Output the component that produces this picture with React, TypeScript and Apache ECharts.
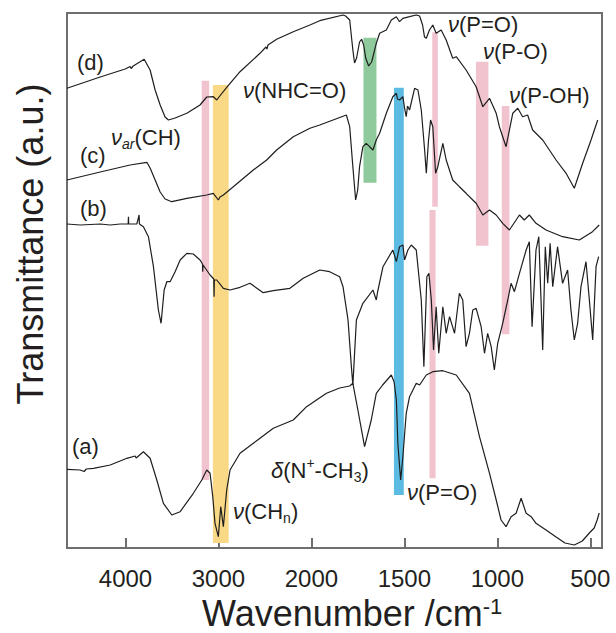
import React, { useEffect, useRef } from "react";
import * as echarts from "echarts";

// ---------- data ----------
const tickWavenumbers = [4000, 3000, 2000, 1500, 1000, 500];
const xLimits = [4629, 437];
const yLimits = [0, 535];

// (d) top spectrum: [wavenumber, transmittance a.u.]
const spectrumD = [
  [4629, 459.7], [4272, 471], [4003, 479], [3950, 481.5], [3939, 479.5], [3917, 482], [3799, 488.7],
  [3735, 478], [3681, 458], [3627, 443], [3574, 431], [3538, 428], [3466, 430], [3340, 434.7],
  [3198, 443], [3126, 451], [3055, 451.3], [3018, 448], [2994, 451], [2911, 460.7], [2768, 476.3],
  [2553, 494.7], [2489, 501], [2478, 499], [2467, 503], [2374, 508.7], [2195, 516.3], [2016, 523],
  [1955, 527.3], [1830, 533], [1816, 532], [1794, 528], [1777, 498], [1768, 485], [1757, 490],
  [1741, 506], [1730, 508.7], [1719, 503], [1708, 490], [1692, 482], [1676, 486], [1651, 504.7],
  [1633, 514.7], [1597, 518], [1570, 528], [1543, 531.3], [1526, 526.3], [1508, 529.7], [1472, 531.3],
  [1436, 533], [1418, 532], [1402, 523], [1392, 511.3], [1382, 509.7], [1365, 518], [1347, 523],
  [1329, 514.7], [1302, 518], [1275, 508], [1240, 489.7], [1221, 491.3], [1168, 478], [1114, 461.3],
  [1078, 441.3], [1042, 449.7], [1006, 434.7], [989, 421.3], [953, 401.3], [917, 434.7], [890, 439.7],
  [864, 431.3], [837, 433], [810, 418], [756, 408], [684, 388], [630, 374.7], [586, 359.7],
  [541, 384.7], [496, 408], [460, 428],
];

// (c)
const spectrumC = [
  [4629, 368], [4272, 376], [3950, 383], [3770, 385.7], [3735, 380], [3681, 368], [3627, 356],
  [3574, 349], [3502, 346.3], [3340, 349.7], [3126, 353], [3055, 354.7], [3001, 348], [2983, 351],
  [2947, 353], [2840, 361.3], [2625, 378], [2481, 388], [2374, 398], [2195, 411.3], [2016, 419.7],
  [1955, 423], [1812, 433], [1794, 421.3], [1777, 381.3], [1762, 348], [1751, 358], [1741, 381.3],
  [1723, 401.3], [1705, 404.7], [1687, 401.3], [1669, 398], [1651, 408], [1633, 414.7], [1597, 434.7],
  [1562, 451.3], [1543, 454.7], [1537, 449], [1526, 448], [1508, 451.3], [1499, 440], [1490, 431.3],
  [1483, 442], [1472, 438], [1445, 459.7], [1427, 458], [1409, 438], [1391, 398], [1382, 374.7],
  [1370, 408], [1359, 428], [1347, 421.3], [1332, 374.7], [1320, 381.3], [1293, 404.7], [1275, 388],
  [1240, 368], [1204, 361.3], [1168, 354.7], [1132, 348], [1114, 344.7], [1078, 333], [1042, 338],
  [1006, 333], [971, 324.7], [935, 318], [881, 333], [855, 328], [828, 333], [792, 324.7], [738, 318],
  [649, 311.3], [559, 308], [488, 316.3], [452, 323],
];

// (b)
const spectrumB = [
  [4629, 324], [4487, 323], [4378, 323.5], [4272, 324], [4164, 323], [4057, 324], [3971, 324],
  [3968, 331.3], [3965, 324], [3878, 324], [3853, 333], [3850, 324], [3807, 321.3], [3753, 311.3],
  [3699, 281.3], [3646, 238], [3617, 224.7], [3584, 258], [3555, 266.3], [3520, 266.3], [3466, 276.3],
  [3412, 288], [3340, 294.7], [3270, 294], [3198, 288], [3171, 284], [3169, 276.3], [3165, 283],
  [3090, 273], [3050, 269], [3047, 251.3], [3044, 268], [3018, 268], [2947, 259.7], [2875, 258],
  [2768, 260.7], [2661, 264.7], [2518, 255.3], [2410, 257.3], [2231, 259.7], [2088, 269.7],
  [1955, 278], [1902, 276.3], [1848, 271.3], [1830, 261.3], [1803, 228], [1785, 181.3], [1777, 163],
  [1758, 228], [1723, 244.7], [1669, 258], [1651, 248], [1644, 256], [1615, 281.3], [1562, 298],
  [1543, 286.3], [1526, 301.3], [1508, 303], [1499, 288], [1481, 298], [1463, 303], [1436, 298],
  [1409, 248], [1395, 181.3], [1379, 271.3], [1368, 274.7], [1355, 248], [1343, 198], [1329, 241.3],
  [1315, 194.7], [1293, 241.3], [1275, 214.7], [1257, 231.3], [1230, 214.7], [1204, 254.7],
  [1186, 248], [1168, 201.3], [1150, 214.7], [1132, 238], [1114, 239.7], [1087, 221.3], [1069, 194.7],
  [1052, 214.7], [1033, 201.3], [1016, 178], [998, 204.7], [971, 224.7], [944, 248], [926, 264.7],
  [908, 256.3], [881, 274.7], [845, 298], [828, 306.3], [813, 221.3], [792, 298], [777, 311.3],
  [765, 248], [756, 198], [742, 301.3], [729, 264.7], [716, 304.7], [702, 261.3], [676, 301.3],
  [649, 264.7], [622, 278], [604, 238], [586, 208], [568, 224.7], [550, 261.3], [523, 286.3],
  [505, 248], [487, 208], [469, 281.3], [455, 291.3],
];

// (a)
const spectrumA = [
  [4629, 78.7], [4487, 78], [4444, 76.5], [4422, 79], [4344, 79.7], [4164, 83], [3985, 89.7],
  [3896, 92], [3885, 90], [3807, 96.3], [3735, 89.7], [3663, 68], [3592, 44.7], [3502, 33],
  [3412, 36.3], [3270, 54.7], [3179, 68], [3126, 78], [3090, 74.7], [3061, 51.3], [3037, 24.7],
  [3001, 11.3], [2975, 41.3], [2947, 21.3], [2911, 58], [2875, 78], [2768, 94.7], [2553, 109.7],
  [2410, 119.7], [2195, 128], [2052, 141.3], [1919, 154.7], [1848, 160], [1794, 162], [1777, 164.7],
  [1750, 138], [1714, 101.3], [1678, 128], [1651, 154.7], [1617, 163], [1570, 173], [1555, 166],
  [1543, 148], [1535, 104.7], [1520, 68], [1508, 91.3], [1490, 134.7], [1472, 151.3], [1454, 158],
  [1436, 164.7], [1418, 163], [1382, 173], [1347, 176.3], [1293, 177.3], [1221, 173], [1150, 154.7],
  [1096, 111.3], [1042, 74.7], [1006, 48], [980, 28], [953, 21.3], [926, 31.3], [899, 34.7],
  [872, 49.7], [845, 34.7], [818, 31.3], [792, 24.7], [738, 18], [684, 11], [636, 5], [586, 3],
  [543, 7], [505, 15], [479, 20], [463, 28], [452, 35],
];

// highlighted bands: [wn from, wn to, top a.u., bottom a.u., kind]
// kind: 0 = pink, 1 = yellow, 2 = green, 3 = blue
const bands = [
  [3180, 3100, 467.3, 68, 0],
  [3060, 2890, 463, 5, 1],
  [1720, 1650, 510.3, 365.3, 2],
  [1556, 1503, 460.3, 53, 3],
  [1350, 1320, 515.7, 341.3, 0],
  [1365, 1332, 338, 69.7, 0],
  [1115, 1048, 486.3, 302.3, 0],
  [976, 935, 442, 213.7, 0],
];

// ---------- helpers ----------
const FONT = '"Liberation Sans", Arial, sans-serif';
const INK = "#231f20";
const bandColors = ["#f1c3cf", "#f9d985", "#8fca9c", "#5bbbe2"];

// piecewise wavenumber scale: 1000 cm-1 per unit above 2000, 500 cm-1 per unit below
function toU(wn: number): number {
  return wn >= 2000 ? (4000 - wn) / 1000 : 2 + (2000 - wn) / 500;
}

const mapSpec = (s: number[][]) => s.map(([wn, v]) => [toU(wn), v]);

const tickU = tickWavenumbers.map(toU);

function labelFor(u: number): string {
  let best = 0;
  for (let i = 0; i < tickU.length; i++) {
    if (Math.abs(tickU[i] - u) < Math.abs(tickU[best] - u)) best = i;
  }
  return String(tickWavenumbers[best]);
}

const base = { fontFamily: FONT, fontSize: 22, fill: INK, lineHeight: 28 };
const richStyles = {
  n: { ...base },
  it: { ...base, fontStyle: "italic" },
  sub: { fontFamily: FONT, fontSize: 14, fill: INK, lineHeight: 14, verticalAlign: "bottom" },
  subit: { fontFamily: FONT, fontSize: 14, fill: INK, lineHeight: 14, verticalAlign: "bottom", fontStyle: "italic" },
  sup: { fontFamily: FONT, fontSize: 14, fill: INK, lineHeight: 14, verticalAlign: "top" },
};

function label(text: string, x: number, y: number) {
  return {
    type: "text",
    x,
    y,
    z: 10,
    style: {
      text,
      rich: richStyles,
      fontFamily: FONT,
      fontSize: 22,
      fill: INK,
      align: "left",
      verticalAlign: "middle",
    },
  };
}

export default function App() {
  const ref = useRef<HTMLDivElement>(null);

  useEffect(() => {
    if (!ref.current) return;
    const chart = echarts.init(ref.current, undefined, { renderer: "svg" });

    const lineSeries = [spectrumD, spectrumC, spectrumB, spectrumA].map((s) => ({
      type: "line",
      data: mapSpec(s),
      showSymbol: false,
      silent: true,
      z: 5,
      lineStyle: { color: "#1e1e1e", width: 1.2 },
    }));

    const bandData = bands.map(([a, b, t, bt, k]) => [toU(a), toU(b), t, bt, k]);

    chart.setOption({
      animation: false,
      grid: {
        left: 67,
        right: 14,
        top: 13,
        bottom: 85,
        show: true,
        borderColor: "#6e6e6e",
        borderWidth: 2,
        backgroundColor: "transparent",
      },
      xAxis: {
        type: "value",
        min: toU(xLimits[0]),
        max: toU(xLimits[1]),
        splitLine: { show: false },
        axisLine: { show: true, lineStyle: { color: "#6e6e6e", width: 2 } },
        axisTick: {
          show: true,
          inside: true,
          length: 10,
          customValues: tickU,
          lineStyle: { color: "#6e6e6e", width: 2 },
        },
        axisLabel: {
          show: true,
          customValues: tickU,
          margin: 18,
          fontSize: 24,
          fontFamily: FONT,
          color: INK,
          formatter: (v: number) => labelFor(v),
        },
      },
      yAxis: {
        type: "value",
        min: yLimits[0],
        max: yLimits[1],
        show: true,
        splitLine: { show: false },
        axisLine: { show: false },
        axisTick: { show: false },
        axisLabel: { show: false },
      },
      series: [
        {
          type: "custom",
          silent: true,
          z: 1,
          data: bandData,
          encode: { x: [0, 1], y: [2, 3] },
          renderItem: (_p: any, api: any) => {
            const p1 = api.coord([api.value(0), api.value(2)]);
            const p2 = api.coord([api.value(1), api.value(3)]);
            return {
              type: "rect",
              shape: { x: p1[0], y: p1[1], width: p2[0] - p1[0], height: p2[1] - p1[1] },
              style: { fill: bandColors[api.value(4)] },
            };
          },
        },
        ...lineSeries,
      ],
      graphic: [
        label("{n|(d)}", 77, 62),
        label("{it|ν}{n|(NHC=O)}", 243, 90),
        label("{it|ν}{subit|ar}{n|(CH)}", 111, 137),
        label("{n|(c)}", 80, 155),
        label("{n|(b)}", 80, 208),
        label("{it|ν}{n|(P=O)}", 448, 24),
        label("{it|ν}{n|(P-O)}", 483, 51),
        label("{it|ν}{n|(P-OH)}", 509, 95),
        label("{n|(a)}", 72, 446),
        label("{it|δ}{n|(N}{sup|+}{n|-CH}{sub|3}{n|)}", 271, 470),
        label("{it|ν}{n|(CH}{sub|n}{n|)}", 233, 511),
        label("{it|ν}{n|(P=O)}", 407, 492),
        {
          type: "text",
          x: 202,
          y: 613,
          style: {
            text: "{t|Wavenumber /cm}{s|-1}",
            align: "left",
            verticalAlign: "middle",
            fill: INK,
            rich: {
              t: { fontFamily: FONT, fontSize: 36, fill: INK, lineHeight: 36 },
              s: { fontFamily: FONT, fontSize: 22, fill: INK, lineHeight: 22, verticalAlign: "top" },
            },
          },
        },
        {
          type: "text",
          x: 30,
          y: 244,
          rotation: Math.PI / 2,
          style: {
            text: "Transmittance (a.u.)",
            fontFamily: FONT,
            fontSize: 36,
            fill: INK,
            align: "center",
            verticalAlign: "middle",
          },
        },
      ],
    });

    return () => chart.dispose();
  }, []);

  return (
    <div
      ref={ref}
      style={{ position: "fixed", left: 0, top: 0, width: 616, height: 633, background: "#fff" }}
    />
  );
}
